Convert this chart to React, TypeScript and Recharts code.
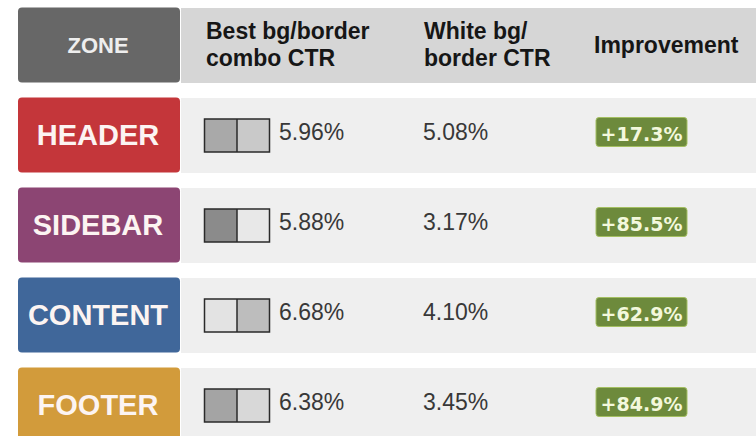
import React from 'react';
import { BarChart, Bar, XAxis, YAxis } from 'recharts';

// ---- data ----
const zones = ['HEADER', 'SIDEBAR', 'CONTENT', 'FOOTER'];
const bestCtr = [5.96, 5.88, 6.68, 6.38];
const whiteCtr = [5.08, 3.17, 4.1, 3.45];
const improvement = [17.3, 85.5, 62.9, 84.9];
const headerLabel = 'ZONE';
const columnTitles = [['Best bg/border', 'combo CTR'], ['White bg/', 'border CTR'], ['Improvement']];

// ---- styles ----
const zoneColors = ['#c4363a', '#8c4573', '#40679a', '#d29b3b'];
const swatchLeft = ['#a9a9a9', '#8b8b8b', '#e3e3e3', '#a4a4a4'];
const swatchRight = ['#c9c9c9', '#e8e8e8', '#bdbdbd', '#d8d8d8'];

const SANS = '"Liberation Sans", Arial, Helvetica, sans-serif';
const WIDE = '"DejaVu Sans", Verdana, sans-serif';

const COL_SWATCH = 204.5;
const COL_BEST = 279;
const COL_WHITE = 423;
const COL_IMP = 595;

const data = [
  { zone: headerLabel, isHeader: true, band: 1 },
  ...zones.map((z, i) => ({
    zone: z,
    isHeader: false,
    band: 1,
    best: bestCtr[i],
    white: whiteCtr[i],
    imp: improvement[i],
    idx: i,
  })),
];

const ZoneTick = (props: any) => {
  const { y, payload } = props;
  const isHeader = payload.value === headerLabel;
  const i = zones.indexOf(payload.value);
  const fill = isHeader ? '#676767' : zoneColors[i];
  return (
    <g>
      <rect x={18} y={y - 37.5} width={162} height={75} rx={4} ry={4} fill={fill} />
      <text
        x={98}
        y={isHeader ? y + 8 : y + 10}
        textAnchor="middle"
        fontFamily={SANS}
        fontWeight="bold"
        fontSize={isHeader ? 22 : 29}
        fill={isHeader ? '#eeeeee' : '#fcf4f2'}
      >
        {payload.value}
      </text>
    </g>
  );
};

const RowShape = (props: any) => {
  const { x, y, width, height, payload } = props;
  const cy = y + height / 2;
  if (payload.isHeader) {
    const cols = [COL_SWATCH + 1.5, COL_WHITE + 1, COL_IMP - 1];
    return (
      <g>
        <rect x={x} y={y} width={width} height={height} fill="#d6d6d6" />
        {columnTitles.map((lines, c) => (
          <text key={c} fontFamily={SANS} fontWeight="bold" fontSize={23} fill="#161616">
            {lines.length === 1 ? (
              <tspan x={cols[c]} y={cy + 7}>{lines[0]}</tspan>
            ) : (
              lines.map((l, k) => (
                <tspan key={k} x={cols[c]} y={cy - 7 + k * 27}>{l}</tspan>
              ))
            )}
          </text>
        ))}
      </g>
    );
  }
  const i = payload.idx;
  return (
    <g>
      <rect x={x} y={y} width={width} height={height} fill="#efefef" />
      <rect x={COL_SWATCH} y={cy - 16.5} width={32.5} height={33} fill={swatchLeft[i]} />
      <rect x={COL_SWATCH + 32.5} y={cy - 16.5} width={32.5} height={33} fill={swatchRight[i]} />
      <rect x={COL_SWATCH} y={cy - 16.5} width={65} height={33} fill="none" stroke="#2a2a2a" strokeWidth={1.5} />
      <line x1={COL_SWATCH + 32.5} x2={COL_SWATCH + 32.5} y1={cy - 16.5} y2={cy + 16.5} stroke="#2a2a2a" strokeWidth={1.5} />
      <text x={COL_BEST} y={cy + 4} fontFamily={SANS} fontSize={23} fill="#383838">
        {payload.best.toFixed(2)}%
      </text>
      <text x={COL_WHITE} y={cy + 4} fontFamily={SANS} fontSize={23} fill="#383838">
        {payload.white.toFixed(2)}%
      </text>
      <rect x={COL_IMP + 1} y={cy - 18} width={91} height={29} rx={3} ry={3} fill="#6d8a3c" stroke="#a4bf62" strokeWidth={1} />
      <text
        x={COL_IMP + 46.5}
        y={cy + 5.5}
        textAnchor="middle"
        fontFamily={WIDE}
        fontWeight="bold"
        fontSize={19}
        fill="#f3f8dc"
      >
        {'+' + payload.imp.toFixed(1) + '%'}
      </text>
    </g>
  );
};

export default function App() {
  return (
    <div style={{ position: 'absolute', left: 0, top: 0, width: 756, height: 436, overflow: 'hidden', background: '#fff' }}>
      <BarChart
        width={756}
        height={450}
        data={data}
        layout="vertical"
        margin={{ top: 0, right: 0, bottom: 0, left: 0 }}
      >
        <XAxis type="number" hide domain={[0, 1]} />
        <YAxis
          type="category"
          dataKey="zone"
          width={181}
          axisLine={false}
          tickLine={false}
          interval={0}
          tick={(p: any) => <ZoneTick {...p} />}
        />
        <Bar dataKey="band" barSize={75} isAnimationActive={false} shape={(p: any) => <RowShape {...p} />} />
      </BarChart>
    </div>
  );
}
